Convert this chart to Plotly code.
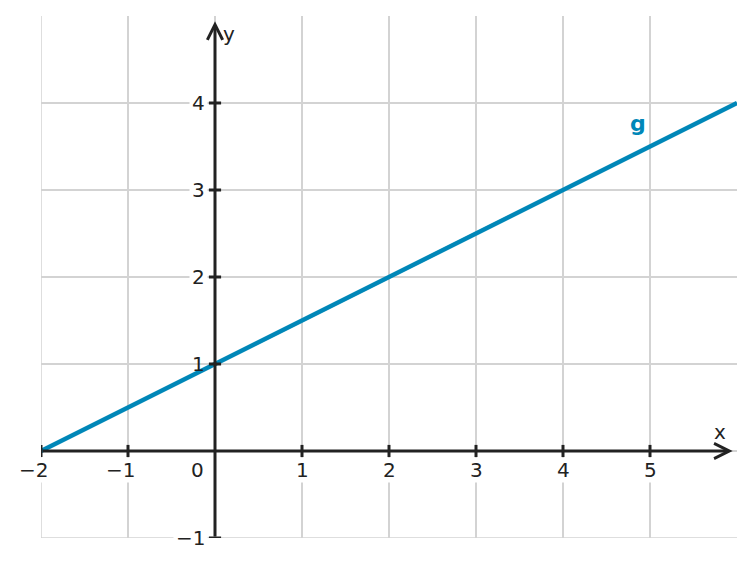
import plotly.graph_objects as go

# data
x_range = [-2, 6]
y_range = [-1, 5]
x_ticks = [-2, -1, 1, 2, 3, 4, 5]
y_ticks = [-1, 1, 2, 3, 4]
x_grid = [-2, -1, 0, 1, 2, 3, 4, 5]
y_grid = [-1, 0, 1, 2, 3, 4]
line_x = [-2, 6]
line_y = [0.5 * v + 1 for v in line_x]  # g: y = 0.5x + 1
label_g = "g"
label_g_pos = (4.86, 3.77)

AX = "#222222"
BLUE = "#0087b8"
GRID = "#d3d3d3"
FONT = dict(family="DejaVu Sans", size=20, color=AX)

fig = go.Figure()

# edge grid lines (plotly drops gridlines on the plot border)
fig.add_shape(type="line", x0=x_range[0], x1=x_range[0], y0=y_range[0], y1=y_range[1],
              line=dict(color=GRID, width=1.5), layer="below")
fig.add_shape(type="line", x0=x_range[0], x1=x_range[1], y0=y_range[0], y1=y_range[0],
              line=dict(color=GRID, width=1.5), layer="below")

fig.add_trace(go.Scatter(x=line_x, y=line_y, mode="lines",
                         line=dict(color=BLUE, width=4.5), hoverinfo="skip"))

# tick marks
tx, ty = [], []
for v in x_ticks:
    tx += [v, v, None]
    ty += [-0.07, 0.07, None]
for v in y_ticks:
    tx += [-0.07, 0.07, None]
    ty += [v, v, None]
fig.add_trace(go.Scatter(x=tx, y=ty, mode="lines", line=dict(color=AX, width=3),
                         hoverinfo="skip"))

def minus(v):
    return str(v).replace("-", "\u2212")

ann = []
# axis arrows
ann.append(dict(x=5.95, y=0, ax=x_range[0], ay=0, xref="x", yref="y", axref="x", ayref="y",
                showarrow=True, arrowhead=5, arrowwidth=3, arrowsize=1.0, arrowcolor=AX, text=""))
ann.append(dict(x=0, y=4.94, ax=0, ay=y_range[0], xref="x", yref="y", axref="x", ayref="y",
                showarrow=True, arrowhead=5, arrowwidth=3, arrowsize=1.0, arrowcolor=AX, text=""))

for v in x_ticks:
    ann.append(dict(x=v, y=0, text=minus(v), showarrow=False, xanchor="center", yanchor="middle",
                    yshift=-19, xshift=-8 if v < 0 else 0, font=FONT, bgcolor="white", borderpad=0))
for v in y_ticks:
    ann.append(dict(x=0, y=v, text=minus(v), showarrow=False, xanchor="right", yanchor="middle",
                    xshift=-7, font=FONT, bgcolor=None if v == 1 else "white", borderpad=2))
ann.append(dict(x=0, y=0, text="0", showarrow=False, xanchor="right", yanchor="middle",
                xshift=-9, yshift=-19, font=FONT, bgcolor="white", borderpad=1))
ann.append(dict(x=0, y=4.94, text="y", showarrow=False, xanchor="left", yanchor="middle",
                xshift=6, yshift=-13, font=FONT))
ann.append(dict(x=5.95, y=0, text="x", showarrow=False, xanchor="center", yanchor="middle",
                xshift=-13, yshift=19, font=FONT))
ann.append(dict(x=label_g_pos[0], y=label_g_pos[1], text="<b>" + label_g + "</b>", showarrow=False,
                xanchor="center", yanchor="middle",
                font=dict(family="DejaVu Sans", size=22, color=BLUE)))

# page body has an 8px margin; compensate so the plot area lands at the reference position
fig.update_layout(
    width=747, height=559,
    margin=dict(l=33, r=18, t=8, b=29),
    plot_bgcolor="white", paper_bgcolor="white",
    showlegend=False,
    annotations=ann,
    xaxis=dict(range=x_range, tickvals=x_grid, showticklabels=False, showgrid=True,
               gridcolor=GRID, gridwidth=1.5, zeroline=False, showline=False, ticks=""),
    yaxis=dict(range=y_range, tickvals=y_grid, showticklabels=False, showgrid=True,
               gridcolor=GRID, gridwidth=1.5, zeroline=False, showline=False, ticks=""),
)

fig.write_html("out.html")
